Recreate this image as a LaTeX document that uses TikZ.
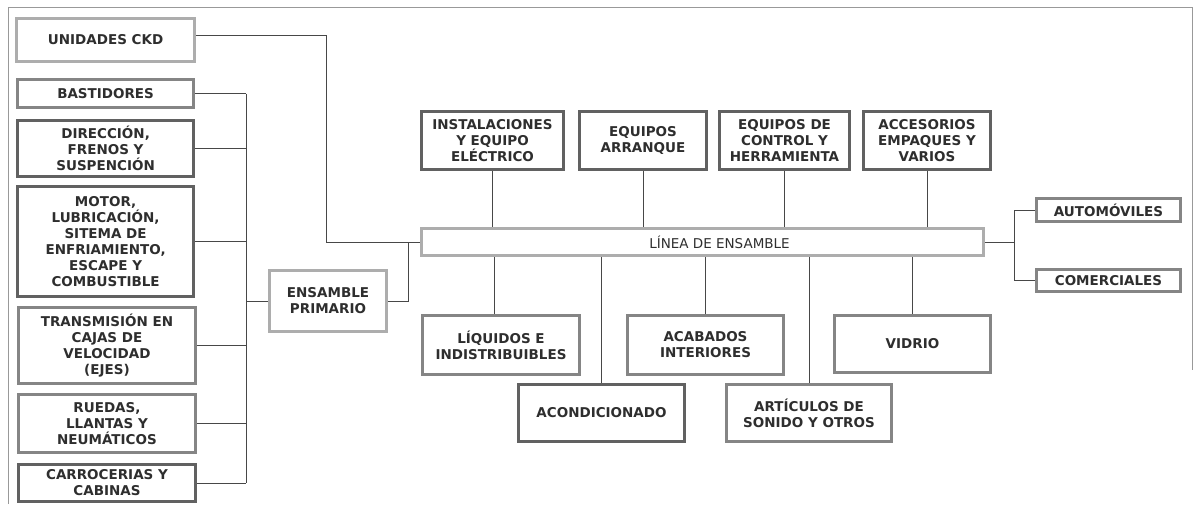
\documentclass[tikz,border=0pt]{standalone}
\usepackage{fontspec}
\setmainfont{DejaVu Sans}

\begin{document}
\begin{tikzpicture}[
  box/.style={rectangle,draw,line width=2.2pt,fill=white,align=center,inner sep=1pt,
    font=\fontsize{9.6}{11.4}\selectfont\bfseries,text=black!82},
  darkbox/.style={box,draw=black!62},
  midbox/.style={box,draw=black!48},
  lightbox/.style={box,draw=black!32},
  link/.style={draw=black!72,line width=0.6pt}
]
\useasboundingbox (0,0) rectangle (29.85,-12.6);
% scanned page frame
\draw[black!40,line width=0.5pt] (0.2,-12.6) -- (0.2,-0.175) -- (29.8,-0.175) -- (29.8,-9.25);

% Left column: parts
\node[lightbox,minimum width=4.45cm,minimum height=1.075cm] (ckd) at (2.64,-1.0) {UNIDADES CKD};
\node[midbox,minimum width=4.4cm,minimum height=0.7cm] (bast) at (2.64,-2.34) {BASTIDORES};
\node[darkbox,minimum width=4.4cm,minimum height=1.4cm] (dir) at (2.64,-3.71) {DIRECCIÓN,\\FRENOS Y\\SUSPENCIÓN};
\node[darkbox,minimum width=4.4cm,minimum height=2.75cm] (motor) at (2.64,-6.04) {MOTOR,\\LUBRICACIÓN,\\SITEMA DE\\ENFRIAMIENTO,\\ESCAPE Y\\COMBUSTIBLE};
\node[midbox,minimum width=4.43cm,minimum height=1.9cm] (trans) at (2.675,-8.64) {TRANSMISIÓN EN\\CAJAS DE\\VELOCIDAD\\(EJES)};
\node[midbox,minimum width=4.43cm,minimum height=1.45cm] (ruedas) at (2.675,-10.59) {RUEDAS,\\LLANTAS Y\\NEUMÁTICOS};
\node[darkbox,minimum width=4.43cm,minimum height=0.925cm] (carro) at (2.675,-12.075) {CARROCERIAS Y\\CABINAS};

% Primary assembly
\node[lightbox,minimum width=2.925cm,minimum height=1.525cm] (primario) at (8.2,-7.525) {ENSAMBLE\\PRIMARIO};
\coordinate (bustop) at (6.15,-2.34);
\coordinate (busbot) at (6.15,-12.075);
\draw[link] (bustop) -- (busbot);
\foreach \n in {bast,dir,motor,trans,ruedas,carro}
  \draw[link] (\n.east) -- (\n.east -| bustop);
\draw[link] (primario.west) -- (primario.west -| bustop);

% Assembly line
\node[lightbox,minimum width=14.05cm,minimum height=0.675cm,font=\fontsize{9.6}{11.4}\selectfont] (linea) at (17.5625,-6.05) {\hspace*{0.85cm}LÍNEA DE ENSAMBLE};
\coordinate (join) at (10.2,-6.05);
\coordinate (ckdbend) at (8.15,-6.05);
\draw[link] ([yshift=1.25mm]ckd.east) -| (ckdbend) -- (linea.west);
\draw[link] (primario.east) -| (join);

% Top suppliers
\node[darkbox,minimum width=3.55cm,minimum height=1.45cm] (inst) at (12.3125,-3.5125) {INSTALACIONES\\Y EQUIPO\\ELÉCTRICO};
\node[darkbox,minimum width=3.175cm,minimum height=1.45cm] (arranque) at (16.075,-3.5125) {EQUIPOS\\ARRANQUE};
\node[darkbox,minimum width=3.25cm,minimum height=1.45cm] (control) at (19.6125,-3.5125) {EQUIPOS DE\\CONTROL Y\\HERRAMIENTA};
\node[darkbox,minimum width=3.175cm,minimum height=1.45cm] (acces) at (23.175,-3.5125) {ACCESORIOS\\EMPAQUES Y\\VARIOS};
\foreach \n in {inst,arranque,control,acces}
  \draw[link] (\n.south) -- (\n.south |- linea.north);

% Bottom suppliers
\node[midbox,minimum width=3.925cm,minimum height=1.475cm] (liquidos) at (12.525,-8.625) {LÍQUIDOS E\\INDISTRIBUIBLES};
\node[darkbox,minimum width=4.15cm,minimum height=1.425cm] (acond) at (15.0375,-10.325) {ACONDICIONADO};
\node[midbox,minimum width=3.9cm,minimum height=1.475cm] (acabados) at (17.6375,-8.625) {ACABADOS\\INTERIORES};
\node[midbox,minimum width=4.125cm,minimum height=1.425cm] (articulos) at (20.225,-10.325) {ARTÍCULOS DE\\SONIDO Y OTROS};
\node[midbox,minimum width=3.9cm,minimum height=1.425cm] (vidrio) at (22.8125,-8.6) {VIDRIO};
\draw[link] ([xshift=-1.75mm]liquidos.north) -- ([xshift=-1.75mm]liquidos.north |- linea.south);
\foreach \n in {acond,acabados,articulos,vidrio}
  \draw[link] (\n.north) -- (\n.north |- linea.south);

% Outputs
\node[midbox,minimum width=3.6cm,minimum height=0.575cm] (auto) at (27.7125,-5.25) {AUTOMÓVILES};
\node[midbox,minimum width=3.6cm,minimum height=0.55cm] (comer) at (27.7125,-7.0125) {COMERCIALES};
\coordinate (split) at (25.35,-6.05);
\draw[link] (linea.east) -- (split);
\draw[link] (auto.west) -| (split) |- (comer.west);
\end{tikzpicture}
\end{document}
